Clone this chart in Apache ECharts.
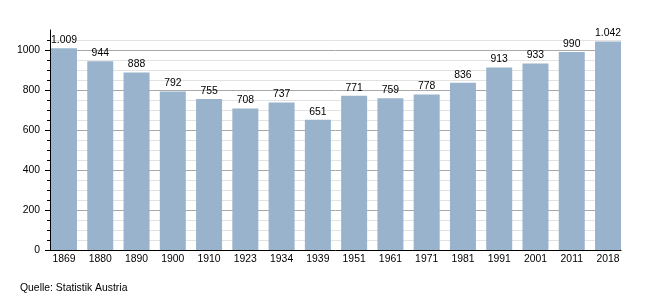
<!DOCTYPE html>
<html><head><meta charset="utf-8">
<script src="https://cdn.jsdelivr.net/npm/echarts@6/dist/echarts.min.js"></script>
<style>html,body{margin:0;padding:0;background:#fff}#c{width:650px;height:300px}</style>
</head><body><div id="c"></div>
<script>
const categories = ['1869','1880','1890','1900','1910','1923','1934','1939','1951','1961','1971','1981','1991','2001','2011','2018'];
const population = [1009,944,888,792,755,708,737,651,771,759,778,836,913,933,990,1042];
const yMajorTicks = [0,200,400,600,800,1000];
const sourceText = 'Quelle: Statistik Austria';

const fmt = v => String(v).replace(/\B(?=(\d{3})+(?!\d))/g, '.');
const font = 'Liberation Sans, Arial, sans-serif';
const fs = 10.4;
const idx = categories.map((c, i) => i);
const chart = echarts.init(document.getElementById('c'), null, {renderer:'canvas'});
chart.setOption({
  animation:false,
  grid:{left:50,right:29,top:30,bottom:50,containLabel:false},
  graphic:[{type:'text',left:20,top:283,style:{text:sourceText,font:fs+'px '+font,fill:'#000'}}],
  xAxis:{type:'value',min:-0.386,max:15.358,
    axisLine:{show:true,onZero:false,lineStyle:{color:'#000',width:1}},
    axisTick:{show:false},
    splitLine:{show:false},
    axisLabel:{color:'#000',fontSize:fs,fontFamily:font,margin:4,customValues:idx,
      showMinLabel:true,showMaxLabel:true,
      formatter:v=>categories[Math.round(v)]||''}},
  yAxis:[{type:'value',min:0,max:1100,interval:50,position:'left',
    axisLine:{show:true,onZero:false,lineStyle:{color:'#000'}},
    axisTick:{show:true,length:3,lineStyle:{color:'#000'}},
    axisLabel:{color:'#000',fontSize:fs,fontFamily:font,margin:10,showMaxLabel:false,
      formatter:v=>yMajorTicks.includes(v)?String(v):''},
    splitLine:{show:true,showMaxLine:false,lineStyle:{color:['#a8a8a8','#e2e2e2','#e2e2e2','#e2e2e2'],width:1}}
  },{type:'value',min:0,max:1100,position:'left',
    axisLine:{show:false,onZero:false},axisLabel:{show:false},splitLine:{show:false},
    axisTick:{show:true,length:5,lineStyle:{color:'#000'},customValues:yMajorTicks}
  }],
  series:[{type:'bar',data:population.map((v,i)=>[i,v]),barWidth:26,
    itemStyle:{color:'#99b3cc'},
    label:{show:true,position:'top',distance:3,color:'#000',fontSize:fs,fontFamily:font,
      formatter:p=>fmt(p.value[1])}}]
});
</script></body></html>
